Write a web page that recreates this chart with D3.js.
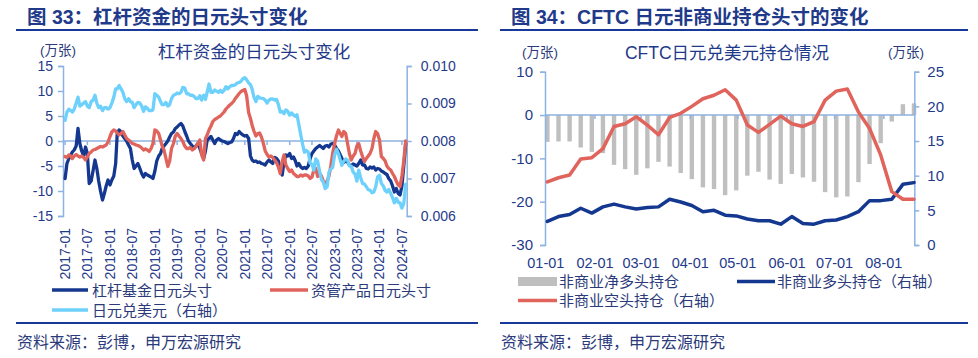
<!DOCTYPE html>
<html><head><meta charset="utf-8">
<script src="https://cdn.jsdelivr.net/npm/d3@7"></script>
<style>
body{margin:0;background:#fff;}
svg{display:block;font-family:"Liberation Sans",Arial,"Noto Sans CJK SC",sans-serif;}
</style></head><body>
<svg id="c" width="978" height="358"></svg>
<script>
// ---------------- Left chart data (semi-monthly, 2017-01 .. 2024-08) ----------------
const leftTickLabels = ["2017-01","2017-07","2018-01","2018-07","2019-01","2019-07","2020-01","2020-07",
  "2021-01","2021-07","2022-01","2022-07","2023-01","2023-07","2024-01","2024-07"];
const leftYTicks = [-15,-10,-5,0,5,10,15];
const rightYTicksL = [0.006,0.007,0.008,0.009,0.010];

const leveragedFunds = [
  -7.5,-4.5,-3.5,-2.8,-2.2,-1.8,-1.0,2.5,-0.5,-2.0,-3.0,-1.2,-2.5,-8.5,-8.0,-6.0,-3.8,-5.5,-8.0,-10.0,-11.8,-10.5,-9.0,-7.8,
  -8.8,-7.8,-7.0,-4.5,1.5,2.2,1.8,1.0,0.5,0,-0.8,-1.5,-3.8,-5.5,-5.0,-4.5,-5.5,-6.5,-7.2,-6.5,-6.8,-7.0,-7.2,-7.5,
  -6.0,-4.0,-3.0,-2.5,-1.5,-1.0,-0.5,0,0.8,1.5,1.8,2.5,2.8,3.2,3.5,3.0,1.9,1.0,0,-0.5,-1.0,-1.5,-1.0,-0.5,
  -1.5,-2.5,-3.5,-2.0,0.2,0.5,0.9,0.2,-0.5,0.2,0.5,0.2,0,-0.1,-0.3,-0.5,-0.3,-0.2,0.5,1.5,1.3,1.9,1.5,1.2,
  1.0,1.1,0.5,-3.0,-3.8,-4.1,-4.0,-4.3,-4.2,-4.5,-4.6,-4.8,-4.2,-3.8,-4.2,-4.5,-3.3,-3.5,-4.0,-6.0,-6.8,-4.0,-2.8,-3.0,
  -2.5,-3.5,-3.2,-4.0,-5.0,-4.5,-5.2,-5.5,-5.3,-5.5,-5.0,-3.5,-2.5,-2.0,-1.5,-1.2,-0.9,-1.2,-1.5,-1.0,-0.9,-1.2,-0.6,-0.5,
  -0.8,-1.5,-2.0,-2.8,-3.5,-4.3,-4.0,-4.2,-4.8,-5.0,-4.6,-4.8,-5.0,-4.5,-3.8,-4.8,-4.8,-5.5,-5.6,-5.2,-5.4,-5.2,-5.8,-5.5,
  -5.6,-6.0,-6.2,-6.5,-6.7,-7.5,-8.0,-9.0,-10.2,-9.5,-10.5,-10.8,-9.0,-5.0,-0.5
];
const assetManagers = [
  -3.1,-3.3,-2.8,-3.0,-3.5,-3.0,-2.7,-3.0,-3.2,-3.0,-3.3,-3.8,-3.2,-2.5,-2.2,-1.8,-1.7,-1.5,-1.3,-1.1,-1.2,-1.0,-0.8,-0.2,
  0.9,1.8,2.2,2.0,1.6,1.2,1.5,1.9,1.2,0.5,0.2,-0.1,-0.5,-0.6,-0.8,-0.9,-1.1,-1.4,-1.8,-1.6,-1.8,-2.1,-1.5,-0.5,
  2.2,2.0,1.5,0.2,-1.0,-1.8,-3.5,-5.1,-4.0,-1.5,-0.5,1.0,1.5,1.0,0.5,-0.1,-1.0,-1.5,-1.5,-1.3,-1.8,-1.5,-1.1,-0.5,
  0.2,-2.8,-3.8,0.5,1.2,2.2,3.0,3.9,4.3,4.5,4.8,5.0,5.4,5.8,6.4,6.8,7.2,7.5,7.9,8.5,9.0,9.5,9.9,10.1,
  10.3,9.0,5.7,4.5,3.2,2.0,1.0,1.5,1.6,0.8,-0.5,-2.0,-2.7,-3.2,-3.0,-3.3,-3.8,-4.3,-5.2,-6.5,-4.1,-2.8,-4.8,-5.5,
  -6.1,-5.8,-6.5,-6.8,-7.1,-7.1,-6.8,-7.0,-6.8,-6.8,-7.0,-7.5,-7.2,-5.8,-5.5,-7.1,-6.5,-7.0,-8.0,-8.8,-8.0,-7.0,-5.0,-2.5,
  -0.5,1.0,2.2,1.5,0.9,1.9,1.5,-0.5,-2.5,-3.8,-3.0,-2.5,-1.0,-0.5,-2.0,-3.1,-4.1,-3.5,-3.0,-2.5,-1.5,0.5,1.9,1.5,
  0.2,-3.1,-3.5,-4.0,-5.0,-5.5,-5.8,-6.5,-7.1,-8.0,-8.8,-9.1,-7.0,-4.0,0
];
const jpyUsd = [
  0.00855,0.00877,0.00885,0.00881,0.00877,0.00885,0.00901,0.00917,0.00893,0.00897,0.00901,0.00905,0.00893,0.00889,0.00905,0.00909,0.00922,0.00901,0.00889,0.00893,0.00881,0.00889,0.00889,0.00885,
  0.00889,0.00901,0.00917,0.00939,0.00939,0.00948,0.00939,0.00930,0.00913,0.00905,0.00913,0.00905,0.00903,0.00889,0.00897,0.00903,0.00901,0.00893,0.00879,0.00891,0.00887,0.00881,0.00881,0.00883,
  0.00926,0.00922,0.00917,0.00905,0.00897,0.00897,0.00903,0.00893,0.00897,0.00913,0.00922,0.00924,0.00928,0.00926,0.00930,0.00943,0.00941,0.00926,0.00926,0.00922,0.00922,0.00919,0.00913,0.00913,
  0.00921,0.00909,0.00922,0.00911,0.00930,0.00952,0.00930,0.00930,0.00936,0.00933,0.00930,0.00935,0.00930,0.00935,0.00945,0.00939,0.00945,0.00948,0.00948,0.00950,0.00955,0.00956,0.00959,0.00966,
  0.00969,0.00963,0.00955,0.00950,0.00939,0.00917,0.00905,0.00919,0.00915,0.00914,0.00913,0.00909,0.00901,0.00909,0.00912,0.00912,0.00909,0.00911,0.00897,0.00877,0.00879,0.00873,0.00883,0.00879,
  0.00869,0.00875,0.00869,0.00866,0.00870,0.00844,0.00816,0.00791,0.00770,0.00775,0.00770,0.00741,0.00738,0.00722,0.00752,0.00746,0.00719,0.00697,0.00691,0.00673,0.00678,0.00717,0.00725,0.00730,
  0.00763,0.00778,0.00766,0.00749,0.00735,0.00746,0.00752,0.00749,0.00733,0.00733,0.00717,0.00712,0.00693,0.00722,0.00702,0.00687,0.00685,0.00678,0.00670,0.00669,0.00662,0.00664,0.00678,0.00704,
  0.00709,0.00687,0.00680,0.00668,0.00664,0.00671,0.00660,0.00649,0.00635,0.00647,0.00637,0.00635,0.00621,0.00633,0.00685
];

// ---------------- Right chart data (weekly CFTC, 2024) ----------------
const cftcDates = ["01-02","01-09","01-16","01-23","01-30","02-06","02-13","02-20","02-27","03-05","03-12","03-19","03-26",
  "04-02","04-09","04-16","04-23","04-30","05-07","05-14","05-21","05-28","06-04","06-11","06-18","06-25",
  "07-02","07-09","07-16","07-23","07-30","08-06","08-13","08-20"];
const netLong = [-6.2,-6.1,-6.1,-7.5,-8.5,-8.8,-11.5,-12.5,-13.8,-12.3,-10.8,-11.9,-13.4,-14.8,-16.7,-17.1,-18.5,-17.4,
  -14.0,-13.1,-14.9,-15.9,-13.6,-14.4,-15.4,-17.8,-19.0,-18.8,-15.5,-11.3,-6.5,-1.5,2.5,2.7];
const longPos = [3.4,4.1,4.4,5.3,4.6,5.5,5.9,5.5,5.2,5.4,5.5,6.6,6.2,5.7,4.8,5.0,4.3,4.2,3.75,3.5,
  3.5,3.0,4.1,3.1,3.0,3.5,3.6,4.1,4.8,6.4,6.4,6.6,8.75,9.0];
const shortPos = [9.1,9.7,10.1,12.4,12.6,13.9,17.1,17.5,18.5,17.3,15.9,18.4,19.0,20.0,21.1,21.6,22.4,20.9,17.3,16.25,
  17.4,18.6,17.5,17.1,17.8,20.9,22.2,22.5,19.2,16.8,13.0,7.7,6.6,6.6];
const monthLabels = ["01-01","02-01","03-01","04-01","05-01","06-01","07-01","08-01"];
const rightLeftTicks = [-30,-20,-10,0,10];
const rightRightTicks = [0,5,10,15,20,25];

// ---------------- styles ----------------
const NAVY = "#14378F", RED = "#E0635C", LBLUE = "#6DD1FC", AXIS = "#8DB3E2";
const TXT = "#1F3A8A", TXT2 = "#2B3A7A", RULE = "#17399A", GRAY = "#BFBFBF";

const svg = d3.select("#c");

// ---------- headers ----------
function header(x0, x1, title, tx) {
  svg.append("text").attr("x", tx).attr("y", 24).attr("font-size", 19.5).attr("font-weight", "bold")
    .attr("fill", TXT).text(title);
  svg.append("line").attr("x1", x0).attr("x2", x1).attr("y1", 30).attr("y2", 30)
    .attr("stroke", RULE).attr("stroke-width", 2.2);
  svg.append("line").attr("x1", x0).attr("x2", x1).attr("y1", 323).attr("y2", 323)
    .attr("stroke", RULE).attr("stroke-width", 2.2);
  svg.append("text").attr("x", x0 + 1).attr("y", 348).attr("font-size", 16).attr("fill", TXT2)
    .text("资料来源：彭博，申万宏源研究");
}
header(16, 478, "图 33：杠杆资金的日元头寸变化", 27);
header(500, 968, "图 34：CFTC 日元非商业持仓头寸的变化", 511);

// ================= LEFT CHART =================
const parseYM = d3.timeParse("%Y-%m");
const dates = [];
for (let y = 2017; y <= 2024; y++) for (let m = 0; m < 12; m++) for (const d of [1, 16]) {
  const dt = new Date(y, m, d);
  if (dt <= new Date(2024, 7, 1)) dates.push(dt);
}
const xL = d3.scaleTime().domain([new Date(2016, 11, 15), new Date(2024, 7, 9)]).range([63, 406.7]);
const yL = d3.scaleLinear().domain([-15, 15]).range([216, 66]);
const yR = d3.scaleLinear().domain([0.006, 0.010]).range([216, 66]);

svg.append("text").attr("x", 40).attr("y", 54.5).attr("font-size", 13.5).attr("fill", TXT2).text("(万张)");
svg.append("text").attr("x", 254).attr("y", 58).attr("font-size", 17.5).attr("fill", TXT)
  .attr("text-anchor", "middle").text("杠杆资金的日元头寸变化");

const gLa = svg.append("g").attr("transform", "translate(63,0)")
  .call(d3.axisLeft(yL).tickValues(leftYTicks).tickSize(5).tickPadding(5).tickFormat(d => String(d)));
const gRa = svg.append("g").attr("transform", "translate(406.7,0)")
  .call(d3.axisRight(yR).tickValues(rightYTicksL).tickSize(5).tickPadding(9).tickFormat(d3.format(".3f")));
[gLa, gRa].forEach(g => {
  g.select(".domain").attr("stroke", AXIS).attr("stroke-width", 1.5);
  g.selectAll(".tick line").attr("stroke", AXIS).attr("stroke-width", 1.5);
  g.selectAll("text").attr("font-size", 14).attr("fill", TXT).attr("font-family", "Liberation Sans, Arial");
});

// zero axis with ticks
const tickDates = leftTickLabels.map(parseYM);
svg.append("line").attr("x1", 63).attr("x2", 406.7).attr("y1", yL(0)).attr("y2", yL(0))
  .attr("stroke", AXIS).attr("stroke-width", 1.5);
svg.append("g").selectAll("line").data(tickDates).join("line")
  .attr("x1", d => xL(d)).attr("x2", d => xL(d)).attr("y1", yL(0)).attr("y2", yL(0) + 4)
  .attr("stroke", AXIS).attr("stroke-width", 1.5);
svg.append("g").selectAll("text").data(leftTickLabels).join("text")
  .attr("transform", d => `translate(${xL(parseYM(d))},228) rotate(-90)`)
  .attr("text-anchor", "end").attr("dy", "0.35em").attr("font-size", 14).attr("fill", TXT).text(d => d);

const lineL = d3.line().x((d, i) => xL(dates[i])).y(d => yL(d)).curve(d3.curveLinear);
const lineR = d3.line().x((d, i) => xL(dates[i])).y(d => yR(d));
const lineStyle = p => p.attr("fill", "none").attr("stroke-width", 3.3).attr("stroke-linejoin", "round").attr("stroke-linecap", "round");
svg.append("path").datum(leveragedFunds).attr("d", lineL).attr("stroke", NAVY).call(lineStyle);
svg.append("path").datum(assetManagers).attr("d", lineL).attr("stroke", RED).call(lineStyle);
svg.append("path").datum(jpyUsd).attr("d", lineR).attr("stroke", LBLUE).call(lineStyle);

// legend left
function legLine(x1, x2, y, color, label, tx) {
  svg.append("line").attr("x1", x1).attr("x2", x2).attr("y1", y).attr("y2", y)
    .attr("stroke", color).attr("stroke-width", 3.5);
  svg.append("text").attr("x", tx).attr("y", y + 5.5).attr("font-size", 15).attr("fill", TXT2).text(label);
}
legLine(52, 88, 290, NAVY, "杠杆基金日元头寸", 92);
legLine(270, 308, 290, RED, "资管产品日元头寸", 311);
legLine(52, 88, 310, LBLUE, "日元兑美元（右轴）", 92);

// ================= RIGHT CHART =================
const cDates = cftcDates.map(s => new Date(2024, +s.slice(0, 2) - 1, +s.slice(3)));
const x2 = d3.scaleTime().domain([new Date(2024, 0, 1), new Date(2024, 7, 20)]).range([545.8, 914]);
const y2L = d3.scaleLinear().domain([-30, 10]).range([245, 71.7]);
const y2R = d3.scaleLinear().domain([0, 25]).range([245, 71.7]);

svg.append("text").attr("x", 522).attr("y", 57).attr("font-size", 13.5).attr("fill", TXT2).text("(万张)");
svg.append("text").attr("x", 888).attr("y", 57).attr("font-size", 13.5).attr("fill", TXT2).text("(万张)");
svg.append("text").attr("x", 727).attr("y", 59).attr("font-size", 17.5).attr("fill", TXT)
  .attr("text-anchor", "middle").text("CFTC日元兑美元持仓情况");

svg.append("g").selectAll("rect").data(netLong).join("rect")
  .attr("x", (d, i) => x2(cDates[i]) - 2.2).attr("width", 4.4)
  .attr("y", d => Math.min(y2L(d), y2L(0))).attr("height", d => Math.abs(y2L(d) - y2L(0)))
  .attr("fill", GRAY);

const g2L = svg.append("g").attr("transform", "translate(545,0)")
  .call(d3.axisLeft(y2L).tickValues(rightLeftTicks).tickSize(5).tickPadding(7).tickFormat(d => String(d)));
const g2R = svg.append("g").attr("transform", "translate(914.3,0)")
  .call(d3.axisRight(y2R).tickValues(rightRightTicks).tickSize(5).tickPadding(8).tickFormat(d => String(d)));
[g2L, g2R].forEach(g => {
  g.select(".domain").attr("stroke", AXIS).attr("stroke-width", 1.5);
  g.selectAll(".tick line").attr("stroke", AXIS).attr("stroke-width", 1.5);
  g.selectAll("text").attr("font-size", 15).attr("fill", TXT).attr("font-family", "Liberation Sans, Arial");
});
const mDates = monthLabels.map(s => new Date(2024, +s.slice(0, 2) - 1, 1));
svg.append("line").attr("x1", 545).attr("x2", 914.3).attr("y1", y2L(0)).attr("y2", y2L(0))
  .attr("stroke", AXIS).attr("stroke-width", 1.5);
svg.append("g").selectAll("line").data(mDates.slice(1)).join("line")
  .attr("x1", d => x2(d)).attr("x2", d => x2(d)).attr("y1", y2L(0)).attr("y2", y2L(0) + 4)
  .attr("stroke", AXIS).attr("stroke-width", 1.5);
svg.append("g").selectAll("text").data(monthLabels).join("text")
  .attr("x", (d, i) => x2(mDates[i])).attr("y", 268).attr("text-anchor", "middle")
  .attr("font-size", 14.5).attr("fill", TXT).text(d => d);

const l2 = d3.line().x((d, i) => x2(cDates[i])).y(d => y2R(d));
svg.append("path").datum(longPos).attr("d", l2).attr("stroke", NAVY).call(lineStyle).attr("stroke-width", 3.5);
svg.append("path").datum(shortPos).attr("d", l2).attr("stroke", RED).call(lineStyle).attr("stroke-width", 3.5);

// legend right
svg.append("rect").attr("x", 518).attr("y", 277).attr("width", 39).attr("height", 9).attr("fill", GRAY);
svg.append("text").attr("x", 559).attr("y", 287).attr("font-size", 15).attr("fill", TXT2).text("非商业净多头持仓");
svg.append("line").attr("x1", 737).attr("x2", 775).attr("y1", 281.5).attr("y2", 281.5).attr("stroke", NAVY).attr("stroke-width", 3.5);
svg.append("text").attr("x", 777).attr("y", 287).attr("font-size", 15).attr("fill", TXT2).text("非商业多头持仓（右轴）");
svg.append("line").attr("x1", 518).attr("x2", 557).attr("y1", 300.5).attr("y2", 300.5).attr("stroke", RED).attr("stroke-width", 3.5);
svg.append("text").attr("x", 559).attr("y", 306).attr("font-size", 15).attr("fill", TXT2).text("非商业空头持仓（右轴）");
</script></body></html>
